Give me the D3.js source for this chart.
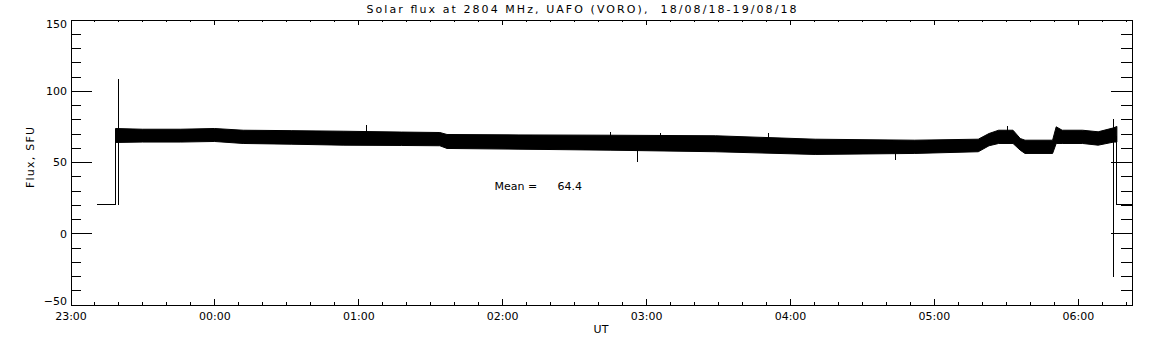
<!DOCTYPE html>
<html>
<head>
<meta charset="utf-8">
<script src="https://cdn.jsdelivr.net/npm/d3@7"></script>
<style>
  body { margin: 0; background: #fff; }
  text { font-family: "DejaVu Sans", sans-serif; font-size: 11px; fill: #000; white-space: pre; }
</style>
</head>
<body>
<div id="chart"></div>
<script>
// envelope of the noisy flux band (UT, SFU)
const bandTimes = ["23:18:46", "23:30:00", "23:46:00", "00:00:00", "00:12:00", "00:32:00", "00:54:00",
  "01:18:00", "01:34:00", "01:37:00", "02:07:00", "02:45:00", "03:29:00", "04:10:30", "04:52:00",
  "05:18:30", "05:23:00", "05:27:00", "05:33:00", "05:36:00", "05:38:00", "05:49:30", "05:51:00",
  "05:53:30", "06:02:00", "06:08:30", "06:15:00", "06:16:18"];
const bandUpper = [73.5, 73, 73, 73.5, 72.3, 72, 71.6, 71, 70.7, 69.3, 69, 68.8, 68.4, 66, 65.3,
  66, 70, 72.3, 72.3, 66.5, 65.3, 65.3, 74.7, 72.3, 72.3, 71.2, 74, 75];
const bandLower = [63.7, 64, 64, 64.4, 63, 62.5, 61.8, 61.6, 61.4, 59.5, 59, 58.3, 57.2, 55.3, 56,
  57.2, 61.4, 63, 63, 58.3, 56, 56, 63, 63, 63, 61.8, 64, 64];

// before and after the observation
const leadTimes = ["23:11:00", "23:18:46", "23:18:46"];
const leadValues = [20, 20, 68];
const tailTimes = ["06:16:18", "06:16:18", "06:22:24"];
const tailValues = [68, 20, 20];

// single spikes
const spikeTimes = ["23:20:00", "01:03:30", "02:45:00", "02:56:30", "03:06:00", "03:51:00", "04:44:00", "05:30:30", "06:14:53"];
const spikeLow = [20, 62, 60, 50.1, 60, 60, 51.3, 64, -31];
const spikeHigh = [108, 75.9, 71.2, 66, 70.7, 70.7, 64, 75.4, 80];

const meanValue = 64.4;
const yTicks = [-50, 0, 50, 100, 150];
const xTickLabels = ["23:00", "00:00", "01:00", "02:00", "03:00", "04:00", "05:00", "06:00"];

const width = 1152, height = 345;
const plotLeft = 70.5, plotRight = 1131.5, plotTop = 19.5, plotBottom = 304.5;

// hours after midnight of the first day
const toHours = (s) => {
  const [h, m, sec] = s.split(":").map(Number);
  return (h < 12 ? h + 24 : h) + m / 60 + (sec || 0) / 3600;
};

const x = d3.scaleLinear().domain([23, toHours("06:22:24")]).range([plotLeft, plotRight]);
const y = d3.scaleLinear().domain([-50, 150]).range([plotBottom, plotTop]);

const svg = d3.select("#chart").append("svg")
  .attr("width", width)
  .attr("height", height);

const hourTicks = xTickLabels.map(toHours);
const minorX = d3.range(23, toHours("06:22:24"), 1 / 6);
const fmtHour = (h) => xTickLabels[hourTicks.indexOf(h)];

// minor ticks first
svg.append("g").attr("transform", `translate(0,${plotBottom})`)
  .call(d3.axisBottom(x).tickValues(minorX).tickSize(-2.9).tickFormat(""));
svg.append("g").attr("transform", `translate(0,${plotTop})`)
  .call(d3.axisTop(x).tickValues(minorX).tickSize(-2.9).tickFormat(""));
svg.append("g").attr("transform", `translate(${plotLeft},0)`)
  .call(d3.axisLeft(y).tickValues(d3.range(-50, 151, 10)).tickSize(-10.6).tickFormat(""));
svg.append("g").attr("transform", `translate(${plotRight},0)`)
  .call(d3.axisRight(y).tickValues(d3.range(-50, 151, 10)).tickSize(-10.6).tickFormat(""));

// major ticks + labels
svg.append("g").attr("transform", `translate(0,${plotBottom})`)
  .call(d3.axisBottom(x).tickValues(hourTicks).tickSizeInner(-5.7).tickSizeOuter(0).tickPadding(7.5).tickFormat(fmtHour));
svg.append("g").attr("transform", `translate(0,${plotTop})`)
  .call(d3.axisTop(x).tickValues(hourTicks).tickSizeInner(-5.7).tickSizeOuter(0).tickFormat(""));
const yAxis = svg.append("g").attr("transform", `translate(${plotLeft},0)`)
  .call(d3.axisLeft(y).tickValues(yTicks).tickSizeInner(-21).tickSizeOuter(0).tickPadding(3.5));
svg.append("g").attr("transform", `translate(${plotRight},0)`)
  .call(d3.axisRight(y).tickValues(yTicks).tickSizeInner(-21).tickSizeOuter(0).tickFormat(""));

svg.selectAll(".domain, .tick line").attr("stroke", "#000").attr("shape-rendering", "crispEdges");
svg.selectAll(".tick text").attr("font-family", null).attr("font-size", null);
yAxis.selectAll(".tick text")
  .text((d) => d < 0 ? "\u2212" + Math.abs(d) : d)
  .attr("dy", (d) => d === 150 ? "0.75em" : d === -50 ? "0em" : "0.36em");

// data
const band = bandTimes.map((t, i) => ({ t: toHours(t), hi: bandUpper[i], lo: bandLower[i] }));
svg.append("path")
  .datum(band)
  .attr("fill", "#000")
  .attr("stroke", "#000")
  .attr("stroke-width", 1)
  .attr("d", d3.area().x((d) => x(d.t)).y0((d) => y(d.lo)).y1((d) => y(d.hi)));

const line = d3.line().x((d) => x(d[0])).y((d) => y(d[1]));
svg.append("path")
  .datum(leadTimes.map((t, i) => [toHours(t), leadValues[i]]))
  .attr("fill", "none").attr("stroke", "#000").attr("shape-rendering", "crispEdges")
  .attr("d", line);
svg.append("path")
  .datum(tailTimes.map((t, i) => [toHours(t), tailValues[i]]))
  .attr("fill", "none").attr("stroke", "#000").attr("shape-rendering", "crispEdges")
  .attr("d", line);

svg.append("g").selectAll("line")
  .data(spikeTimes.map((t, i) => ({ t: toHours(t), lo: spikeLow[i], hi: spikeHigh[i] })))
  .join("line")
  .attr("x1", (d) => x(d.t)).attr("x2", (d) => x(d.t))
  .attr("y1", (d) => y(d.lo)).attr("y2", (d) => y(d.hi))
  .attr("stroke", "#000")
  .attr("shape-rendering", "crispEdges");

// texts
svg.append("text")
  .attr("x", 366.5).attr("y", 12.5)
  .attr("textLength", 430).attr("lengthAdjust", "spacing")
  .text("Solar flux at 2804 MHz, UAFO (VORO),  18/08/18-19/08/18");

svg.append("text")
  .attr("transform", `translate(34,157.5) rotate(-90)`)
  .attr("text-anchor", "middle")
  .attr("textLength", 61).attr("lengthAdjust", "spacing")
  .text("Flux, SFU");

svg.append("text")
  .attr("x", (plotLeft + plotRight) / 2).attr("y", 332.5)
  .attr("text-anchor", "middle")
  .text("UT");

svg.append("text").attr("x", 494.5).attr("y", 190.3).text("Mean =");
svg.append("text").attr("x", 557.5).attr("y", 190.3).text(meanValue.toFixed(1));
</script>
</body>
</html>
